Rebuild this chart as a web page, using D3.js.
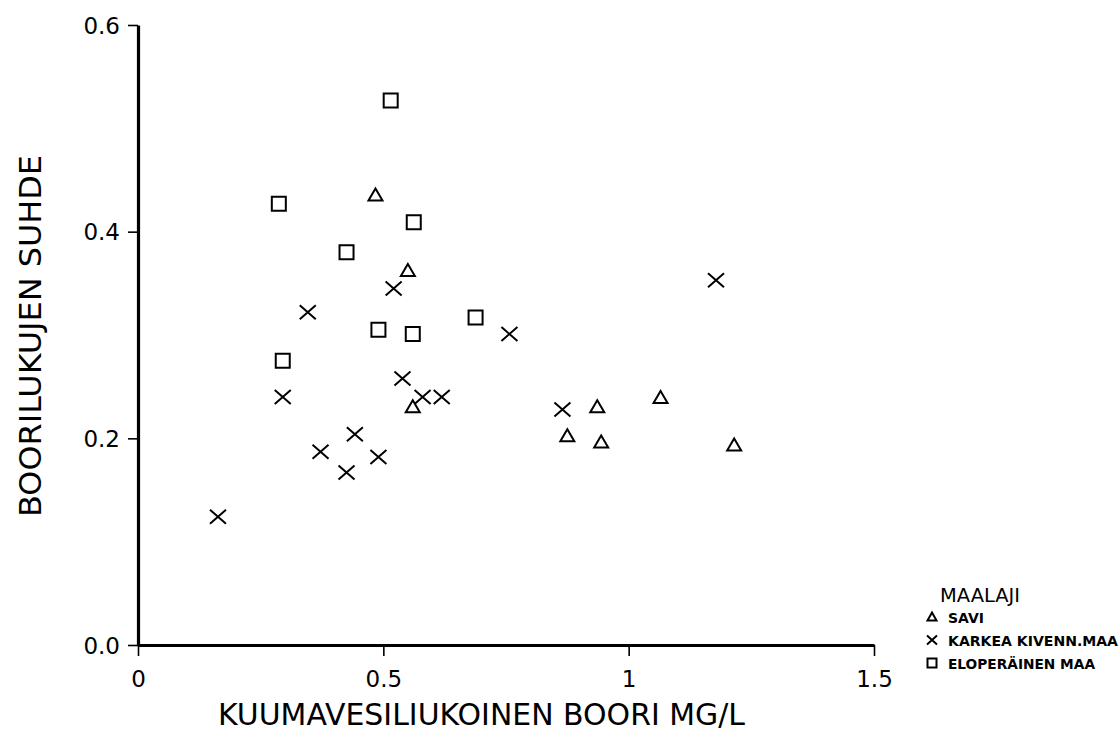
<!DOCTYPE html>
<html>
<head>
<meta charset="utf-8">
<script src="https://cdn.jsdelivr.net/npm/d3@7"></script>
<style>
  body { margin: 0; background: #fff; }
  svg { display: block; }
  text { fill: #000; }
</style>
</head>
<body>
<svg id="chart" width="1120" height="738"></svg>
<script>
// Kuumavesiliukoinen boori (mg/l) vs. boorilukujen suhde, by soil type
const saviX = [0.484, 0.55, 0.56, 0.936, 0.875, 0.944, 1.065, 1.215];
const saviY = [0.435, 0.362, 0.230, 0.230, 0.202, 0.196, 0.239, 0.193];

const karkeaX = [0.521, 0.346, 0.757, 1.178, 0.539, 0.295, 0.58, 0.619, 0.865, 0.442, 0.372, 0.49, 0.425, 0.163];
const karkeaY = [0.345, 0.322, 0.301, 0.353, 0.258, 0.240, 0.240, 0.240, 0.228, 0.204, 0.187, 0.182, 0.167, 0.124];

const eloX = [0.515, 0.287, 0.562, 0.425, 0.49, 0.56, 0.688, 0.295];
const eloY = [0.527, 0.427, 0.409, 0.380, 0.305, 0.301, 0.317, 0.275];

const xTicks = [0, 0.5, 1, 1.5];
const yTicks = [0, 0.2, 0.4, 0.6];

const legendTitle = "MAALAJI";
const seriesNames = ["SAVI", "KARKEA KIVENN.MAA", "ELOPERÄINEN MAA"];
const xTitle = "KUUMAVESILIUKOINEN BOORI  MG/L";
const yTitle = "BOORILUKUJEN SUHDE";

const svg = d3.select("#chart");
const x = d3.scaleLinear().domain([0, 1.5]).range([138, 874]);
const y = d3.scaleLinear().domain([0, 0.6]).range([645, 25]);

const font = "'DejaVu Sans', sans-serif";

// axes
const xAxis = svg.append("g").attr("transform", `translate(0,${y(0)})`)
  .call(d3.axisBottom(x).tickValues(xTicks).tickSize(11).tickSizeOuter(0)
    .tickFormat(d => d === 0 ? "0" : d === 1 ? "1" : d3.format(".1f")(d)));
const yAxis = svg.append("g").attr("transform", `translate(${x(0)},0)`)
  .call(d3.axisLeft(y).tickValues(yTicks).tickSize(10).tickSizeOuter(0)
    .tickFormat(d3.format(".1f")));

[xAxis, yAxis].forEach(g => {
  g.attr("font-size", 23).attr("font-family", font);
  g.select(".domain").attr("stroke", "#000").attr("stroke-width", 3.2);
  g.selectAll(".tick line").attr("stroke", "#000").attr("stroke-width", 1.6);
  g.selectAll(".tick text").attr("fill", "#000");
});
xAxis.selectAll(".tick text").attr("y", 42).attr("dy", 0);
yAxis.selectAll(".tick text").attr("x", -18).attr("dy", "0.36em");

// axis titles
svg.append("text")
  .attr("x", 218).attr("y", 725)
  .attr("font-family", font).attr("font-size", 30)
  .attr("textLength", 527).attr("lengthAdjust", "spacingAndGlyphs")
  .text(xTitle);

svg.append("text")
  .attr("transform", "translate(41,517) rotate(-90)")
  .attr("font-family", font).attr("font-size", 31)
  .attr("textLength", 362).attr("lengthAdjust", "spacingAndGlyphs")
  .text(yTitle);

// marker shapes
const triPath = "M0,-7 L7,5 L-7,5 Z";
const crossPath = "M-8,-7 L8,7 M-8,7 L8,-7";
const sqPath = "M-7,-7 H7 V7 H-7 Z";

function drawSeries(xs, ys, path, cls) {
  svg.append("g").attr("class", cls)
    .selectAll("path").data(xs.map((v, i) => [v, ys[i]])).join("path")
    .attr("transform", d => `translate(${x(d[0])},${y(d[1])})`)
    .attr("d", path)
    .attr("fill", "none").attr("stroke", "#000").attr("stroke-width", 2);
}
drawSeries(saviX, saviY, triPath, "savi");
drawSeries(karkeaX, karkeaY, crossPath, "karkea");
drawSeries(eloX, eloY, sqPath, "elo");

// legend
const leg = svg.append("g").attr("transform", "translate(930,0)");
leg.append("text").attr("x", 10).attr("y", 602)
  .attr("font-family", font).attr("font-size", 19)
  .attr("textLength", 80).attr("lengthAdjust", "spacingAndGlyphs")
  .text(legendTitle);
const legPaths = [
  "M0,-4.5 L4.5,3.5 L-4.5,3.5 Z",
  "M-5,-4.5 L5,4.5 M-5,4.5 L5,-4.5",
  "M-4.5,-4.5 H4.5 V4.5 H-4.5 Z"
];
const legY = [617, 640, 663];
const legW = [36, 170, 147];
seriesNames.forEach((name, i) => {
  leg.append("path").attr("transform", `translate(2,${legY[i]})`)
    .attr("d", legPaths[i]).attr("fill", "none").attr("stroke", "#000").attr("stroke-width", 2);
  leg.append("text").attr("x", 18).attr("y", legY[i] + 5.5)
    .attr("font-family", font).attr("font-size", 14).attr("font-weight", "bold")
    .attr("textLength", legW[i]).attr("lengthAdjust", "spacingAndGlyphs")
    .text(name);
});
</script>
</body>
</html>
